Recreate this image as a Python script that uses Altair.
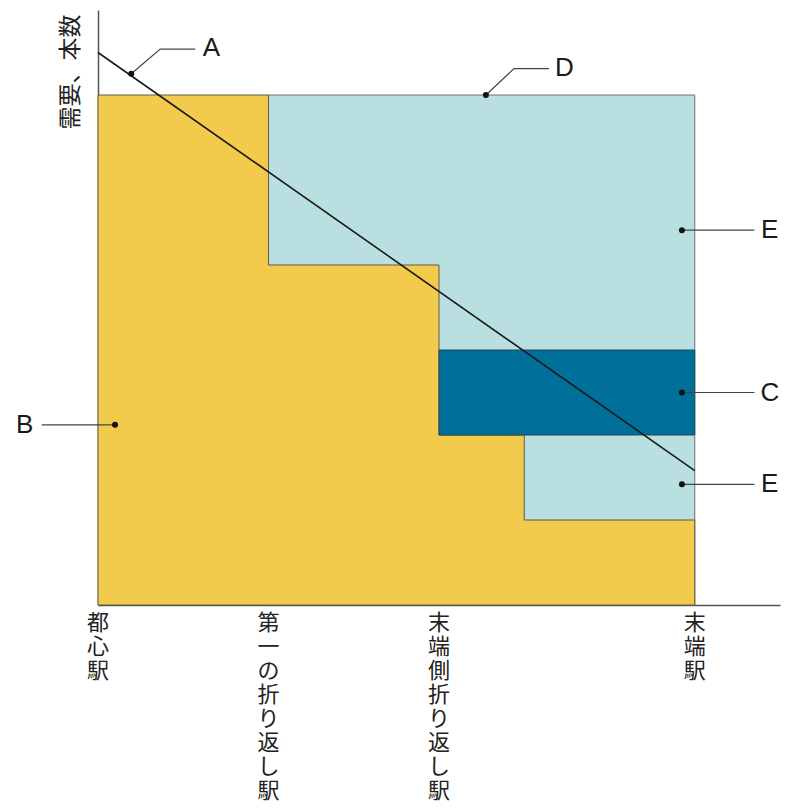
import altair as alt
import pandas as pd

# ---- data (units; 1 unit = one grid step) ----
stations = ["都心駅", "第一の折り返し駅", "末端側折り返し駅", "末端駅"]
station_x = [0, 2, 4, 7]

# yellow step (B): demand-covered service
step_x = [0, 2, 4, 5, 7]
step_y = [6, 4, 2, 1, 1]

# light blue full service envelope (D / E)
env_x, env_x2, env_y, env_y2 = [2], [7], [0], [6]
# dark blue band (C)
band_x, band_x2, band_y, band_y2 = [4], [7], [2], [3]

# demand line (A)
line_x = [0, 7]
line_y = [6.5, 1.58]

# callouts
call_label = ["A", "D", "E", "C", "E", "B"]
call_dot_x = [0.39, 4.55, 6.85, 6.85, 6.85, 0.20]
call_dot_y = [6.25, 6.0, 4.41, 2.5, 1.42, 2.12]
call_elbow_x = [0.73, 4.88, 6.85, 6.85, 6.85, 0.20]
call_elbow_y = [6.54, 6.31, 4.41, 2.5, 1.42, 2.12]
call_end_x = [1.14, 5.29, 7.70, 7.70, 7.70, -0.66]
call_end_y = [6.54, 6.31, 4.41, 2.5, 1.42, 2.12]
call_text_x = [1.33, 5.47, 7.88, 7.88, 7.88, -0.86]
call_text_y = [6.55, 6.32, 4.41, 2.5, 1.42, 2.12]

XD = [0, 8]
YD = [0, 7]
xs = alt.Scale(domain=XD, nice=False, zero=False)
ys = alt.Scale(domain=YD, nice=False, zero=False)

env_df = pd.DataFrame({"x": env_x, "x2": env_x2, "y": env_y, "y2": env_y2})
band_df = pd.DataFrame({"x": band_x, "x2": band_x2, "y": band_y, "y2": band_y2})
step_df = pd.DataFrame({"x": step_x, "y": step_y})
line_df = pd.DataFrame({"x": line_x, "y": line_y})

lead_rows = []
for i in range(len(call_label)):
    pts = [(call_dot_x[i], call_dot_y[i]), (call_elbow_x[i], call_elbow_y[i]), (call_end_x[i], call_end_y[i])]
    for k, (px, py) in enumerate(pts):
        lead_rows.append({"id": i, "o": k, "x": px, "y": py})
lead_df = pd.DataFrame(lead_rows)
dot_df = pd.DataFrame({"x": call_dot_x, "y": call_dot_y})
lab_df = pd.DataFrame({"x": call_text_x, "y": call_text_y, "t": call_label})
st_df = pd.DataFrame({"x": station_x, "y": [0] * len(station_x), "t": ["\n".join(s) for s in stations]})

yaxis = alt.Axis(
    title="需要、本数", labels=False, ticks=False, grid=False,
    domainColor="#555555", domainWidth=1.5,
    titleFont="Noto Sans CJK JP", titleFontSize=23, titleFontWeight="normal",
    titleColor="#222222", titleAngle=270, titleAlign="right", titleBaseline="middle",
    titleX=-28, titleY=4,
)
xaxis = alt.Axis(title=None, labels=False, ticks=False, grid=False,
                 domainColor="#555555", domainWidth=1.5)

env = alt.Chart(env_df).mark_rect(fill="#BADFE0", stroke="#6a7070", strokeWidth=1).encode(
    x=alt.X("x:Q", scale=xs, axis=xaxis), x2="x2", y=alt.Y("y:Q", scale=ys, axis=yaxis), y2="y2")

step = alt.Chart(step_df).mark_area(interpolate="step-after", fill="#F2CA4C",
                                    stroke="#5c5a40", strokeWidth=1).encode(
    x=alt.X("x:Q", scale=xs), y=alt.Y("y:Q", scale=ys))

band = alt.Chart(band_df).mark_rect(fill="#006F9A", stroke="#2b4550", strokeWidth=1).encode(
    x=alt.X("x:Q", scale=xs), x2="x2", y=alt.Y("y:Q", scale=ys), y2="y2")

dline = alt.Chart(line_df).mark_line(color="#1a1a1a", strokeWidth=1.6).encode(
    x=alt.X("x:Q", scale=xs), y=alt.Y("y:Q", scale=ys))

leads = alt.Chart(lead_df).mark_line(color="#444444", strokeWidth=1.2).encode(
    x=alt.X("x:Q", scale=xs), y=alt.Y("y:Q", scale=ys), detail="id:N", order="o:Q")

dots = alt.Chart(dot_df).mark_circle(color="#111111", size=36, opacity=1).encode(
    x=alt.X("x:Q", scale=xs), y=alt.Y("y:Q", scale=ys))

labs = alt.Chart(lab_df).mark_text(font="Liberation Sans", fontSize=26, color="#1a1a1a",
                                   align="center", baseline="middle").encode(
    x=alt.X("x:Q", scale=xs), y=alt.Y("y:Q", scale=ys), text="t:N")

sts = alt.Chart(st_df).mark_text(font="Noto Sans CJK JP", fontSize=22, color="#222222",
                                 align="center", baseline="top", lineBreak="\n",
                                 lineHeight=24, dy=8).encode(
    x=alt.X("x:Q", scale=xs), y=alt.Y("y:Q", scale=ys), text="t:N")

chart = alt.layer(env, step, band, dline, leads, dots, labs, sts).properties(
    width=682, height=595,
    autosize=alt.AutoSizeParams(type="none"),
    padding={"left": 90, "top": 2, "right": 10, "bottom": 200},
).configure_view(stroke=None)

chart.save("out.html", embed_options={"renderer": "svg", "actions": False})
